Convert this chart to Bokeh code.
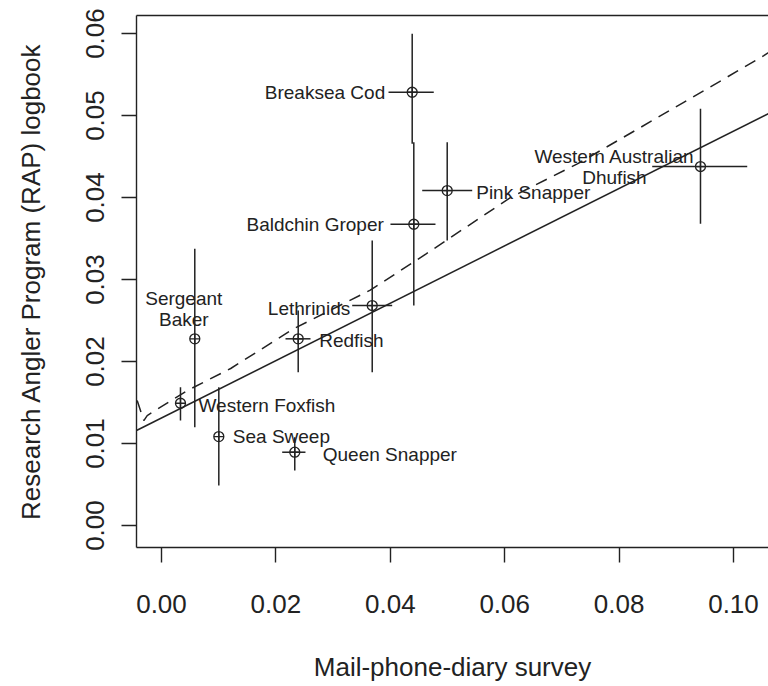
from bokeh.plotting import figure
from bokeh.models import Range1d, LinearAxis, FixedTicker, PrintfTickFormatter, ColumnDataSource
from bokeh.core.properties import value
from bokeh.embed import file_html
from bokeh.resources import INLINE

# ---------------- data ----------------
species = ["Breaksea Cod", "Pink Snapper", "Baldchin Groper", "Western Australian\nDhufish",
           "Sergeant\nBaker", "Western Foxfish", "Sea Sweep", "Queen Snapper", "Redfish", "Lethrinids"]
mail_x = [0.04383, 0.04995, 0.04411, 0.09423, 0.00582, 0.00332, 0.01002, 0.02330, 0.02390, 0.03684]
mail_lo = [0.03969, 0.04558, 0.04003, 0.08579, 0.00582, 0.00332, 0.01002, 0.02110, 0.02168, 0.03334]
mail_hi = [0.04760, 0.05432, 0.04790, 0.10240, 0.00582, 0.00332, 0.01002, 0.02517, 0.02605, 0.04033]
rap_y = [0.05284, 0.04085, 0.03674, 0.04378, 0.02277, 0.01491, 0.01085, 0.00894, 0.02277, 0.02683]
rap_lo = [0.04655, 0.03476, 0.02683, 0.03679, 0.01199, 0.01280, 0.00488, 0.00671, 0.01870, 0.01870]
rap_hi = [0.05996, 0.04674, 0.04674, 0.05082, 0.03374, 0.01687, 0.01687, 0.01077, 0.02622, 0.03476]

# solid fitted line
fit_x = [-0.00437, 0.10612]
fit_y = [0.01159, 0.05024]

# dashed curve
curve_x = [-0.00425, -0.00309, -0.0025, 0.0045, 0.0121, 0.0231, 0.0365, 0.0462, 0.0610, 0.0727, 0.0913, 0.1053, 0.1075]
curve_y = [0.01524, 0.01280, 0.01341, 0.01646, 0.01915, 0.0240, 0.0287, 0.0331, 0.0400, 0.0441, 0.0516, 0.0573, 0.0583]

x_ticks = [0.00, 0.02, 0.04, 0.06, 0.08, 0.10]
y_ticks = [0.00, 0.01, 0.02, 0.03, 0.04, 0.05, 0.06]

# ---------------- layout / style (label placement in screen px) ----------------
lab_dx = [-27, 29, -30, -86, -11, 18, 14, 28, 21, -22]
lab_dy = [0, 2, 0, 0, -30, 2, 0, 2, 2, 3]
lab_align = ["right", "left", "right", "center", "center", "left", "left", "left", "left", "right"]

INK = "#222222"
FONT = "Liberation Sans"

p = figure(width=768, height=686,
           x_range=Range1d(-0.00437, 0.10612), y_range=Range1d(-0.00268, 0.06220),
           output_backend="svg", toolbar_location=None,
           x_axis_type=None, y_axis_type=None,
           min_border_left=136, min_border_right=0, min_border_top=15, min_border_bottom=139)
p.outline_line_color = None
p.xgrid.visible = False
p.ygrid.visible = False
p.background_fill_color = "white"
p.border_fill_color = "white"


def style_axis(ax, ticks):
    ax.ticker = FixedTicker(ticks=ticks)
    ax.formatter = PrintfTickFormatter(format="%.2f")
    ax.axis_line_color = INK
    ax.axis_line_width = 1.4
    ax.major_tick_line_color = INK
    ax.major_tick_line_width = 1.4
    ax.major_tick_out = 15
    ax.major_tick_in = 0
    ax.minor_tick_line_color = None
    ax.major_label_text_font = FONT
    ax.major_label_text_font_size = "26px"
    ax.major_label_text_color = INK
    ax.axis_label_text_font = FONT
    ax.axis_label_text_font_size = "26px"
    ax.axis_label_text_font_style = "normal"
    ax.axis_label_text_color = INK


xaxis = LinearAxis(axis_label="Mail-phone-diary survey")
style_axis(xaxis, x_ticks)
xaxis.major_label_standoff = 32
xaxis.axis_label_standoff = 36
p.add_layout(xaxis, "below")

yaxis = LinearAxis(axis_label="Research Angler Program (RAP) logbook")
style_axis(yaxis, y_ticks)
yaxis.major_label_orientation = "vertical"
yaxis.major_label_standoff = 17
yaxis.axis_label_standoff = 38
p.add_layout(yaxis, "left")

top = LinearAxis(ticker=FixedTicker(ticks=[]), axis_line_color=INK, axis_line_width=1.4,
                 major_label_text_font_size="0px", major_tick_line_color=None,
                 minor_tick_line_color=None, major_tick_out=0, major_label_standoff=0)
p.add_layout(top, "above")

src = ColumnDataSource(dict(x=mail_x, xlo=mail_lo, xhi=mail_hi, y=rap_y, ylo=rap_lo, yhi=rap_hi,
                            label=species, dx=lab_dx, dy=lab_dy, align=lab_align))

p.line(fit_x, fit_y, line_color=INK, line_width=1.5)
p.line(curve_x, curve_y, line_color=INK, line_width=1.5, line_dash="12 8")

p.segment(x0="xlo", y0="y", x1="xhi", y1="y", source=src, line_color=INK, line_width=1.5)
p.segment(x0="x", y0="ylo", x1="x", y1="yhi", source=src, line_color=INK, line_width=1.5)
p.scatter(x="x", y="y", source=src, marker="circle_cross", size=10, fill_color=None,
          line_color=INK, line_width=1.3)

p.text(x="x", y="y", text="label", source=src, x_offset="dx", y_offset="dy",
       text_align="align", text_baseline="middle", text_font=value(FONT),
       text_font_size="19px", text_color=INK, text_line_height=1.0)

open("out.html", "w").write(file_html(p, INLINE))
